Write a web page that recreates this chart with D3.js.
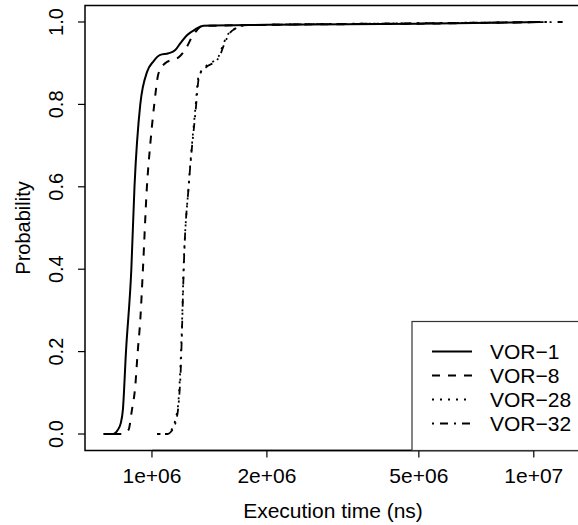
<!DOCTYPE html>
<html>
<head>
<meta charset="utf-8">
<script src="https://cdn.jsdelivr.net/npm/d3@7"></script>
<style>
  body { margin: 0; background: #fff; }
  svg text { font-family: "Liberation Sans", Arial, Helvetica, sans-serif; fill: #000; }
</style>
</head>
<body>
<svg width="578" height="525"></svg>
<script>
// execution time (ns) vs cumulative probability
const seriesNames = ["VOR\u22121", "VOR\u22128", "VOR\u221228", "VOR\u221232"];

const vor1 = [
  [7.46e5, 0], [7.92e5, 0], [8.11e5, 0.008], [8.29e5, 0.027], [8.39e5, 0.058],
  [8.55e5, 0.2], [8.83e5, 0.4], [9.00e5, 0.6], [9.32e5, 0.8], [9.72e5, 0.88],
  [1.008e6, 0.904], [1.051e6, 0.92], [1.105e6, 0.924], [1.151e6, 0.932],
  [1.186e6, 0.948], [1.235e6, 0.968], [1.298e6, 0.982], [1.365e6, 0.991],
  [2e6, 0.993], [5e6, 0.996], [1.04e7, 1.0]
];
const vor8 = [
  [7.92e5, 0], [8.36e5, 0], [8.68e5, 0.01], [8.86e5, 0.058], [9.04e5, 0.115],
  [9.17e5, 0.196], [9.32e5, 0.277], [9.47e5, 0.4], [9.70e5, 0.6], [9.90e5, 0.704],
  [1.014e6, 0.8], [1.040e6, 0.875], [1.083e6, 0.9], [1.128e6, 0.908],
  [1.174e6, 0.914], [1.235e6, 0.94], [1.273e6, 0.964], [1.311e6, 0.98],
  [1.352e6, 0.99], [2e6, 0.993], [5e6, 0.996], [1.08e7, 1.0]
];
const vor28 = [
  [1.031e6, 0], [1.095e6, 0], [1.117e6, 0.006], [1.151e6, 0.034], [1.174e6, 0.083],
  [1.186e6, 0.155], [1.198e6, 0.26], [1.210e6, 0.4], [1.247e6, 0.6], [1.298e6, 0.786],
  [1.324e6, 0.867], [1.379e6, 0.891], [1.465e6, 0.908], [1.494e6, 0.916],
  [1.540e6, 0.948], [1.587e6, 0.972], [1.652e6, 0.984], [1.737e6, 0.992],
  [5e6, 0.997], [1.1e7, 1.0]
];
const vor32 = [
  [1.04e6, 0], [1.10e6, 0], [1.12e6, 0.005], [1.155e6, 0.03], [1.176e6, 0.08],
  [1.19e6, 0.16], [1.20e6, 0.27], [1.212e6, 0.41], [1.25e6, 0.61], [1.30e6, 0.78],
  [1.33e6, 0.87], [1.385e6, 0.89], [1.47e6, 0.905], [1.50e6, 0.915],
  [1.545e6, 0.945], [1.59e6, 0.97], [1.66e6, 0.985], [1.75e6, 0.992],
  [5e6, 0.997], [1.19e7, 1.0]
];

const xTicks = [1e6, 2e6, 5e6, 1e7];
const xTickLabels = ["1e+06", "2e+06", "5e+06", "1e+07"];
const yTicks = [0, 0.2, 0.4, 0.6, 0.8, 1.0];

const allSeries = [vor1, vor8, vor28, vor32];
const dashes = [null, "8,8", "2,6", "2,6,8,6"];
const widths = [2, 2, 1.8, 1.8];

const svg = d3.select("svg");
const plot = {left: 85, right: 581, top: 5.5, bottom: 450.5};

// R style 4% padding, in log space for x
const xs = allSeries.flat().map(d => Math.log10(d[0]));
const lo = d3.min(xs), hi = d3.max(xs), pad = (hi - lo) * 0.04;
const x = d3.scaleLog()
  .domain([Math.pow(10, lo - pad), Math.pow(10, hi + pad)])
  .range([plot.left, plot.right]);
const y = d3.scaleLinear()
  .domain([-0.04, 1.04])
  .range([plot.bottom, plot.top]);

svg.append("clipPath").attr("id", "clip")
  .append("rect")
  .attr("x", plot.left).attr("y", plot.top)
  .attr("width", plot.right - plot.left).attr("height", plot.bottom - plot.top);

const line = d3.line()
  .x(d => x(d[0]))
  .y(d => y(d[1]))
  .curve(d3.curveMonotoneX);

const linesG = svg.append("g").attr("clip-path", "url(#clip)");
allSeries.forEach((s, i) => {
  linesG.append("path")
    .attr("d", line(s))
    .attr("fill", "none")
    .attr("stroke", "#000")
    .attr("stroke-width", widths[i])
    .attr("stroke-dasharray", dashes[i]);
});

// box
svg.append("rect")
  .attr("x", plot.left).attr("y", plot.top)
  .attr("width", plot.right - plot.left).attr("height", plot.bottom - plot.top)
  .attr("fill", "none").attr("stroke", "#000").attr("stroke-width", 1.5);

// x axis
const xAxis = svg.append("g");
xAxis.append("line")
  .attr("x1", x(xTicks[0])).attr("x2", x(xTicks[xTicks.length - 1]))
  .attr("y1", plot.bottom).attr("y2", plot.bottom)
  .attr("stroke", "#000").attr("stroke-width", 1.5);
xTicks.forEach((t, i) => {
  xAxis.append("line")
    .attr("x1", x(t)).attr("x2", x(t))
    .attr("y1", plot.bottom).attr("y2", plot.bottom + 7)
    .attr("stroke", "#000").attr("stroke-width", 1.2);
  xAxis.append("text")
    .attr("x", x(t)).attr("y", plot.bottom + 32)
    .attr("text-anchor", "middle")
    .attr("font-size", 21)
    .text(xTickLabels[i]);
});
svg.append("text")
  .attr("x", (plot.left + plot.right) / 2).attr("y", 518)
  .attr("text-anchor", "middle")
  .attr("font-size", 21)
  .text("Execution time (ns)");

// y axis
const yAxis = svg.append("g");
yTicks.forEach(t => {
  yAxis.append("line")
    .attr("x1", plot.left - 7).attr("x2", plot.left)
    .attr("y1", y(t)).attr("y2", y(t))
    .attr("stroke", "#000").attr("stroke-width", 1.2);
  yAxis.append("text")
    .attr("transform", `translate(${plot.left - 22},${y(t)}) rotate(-90)`)
    .attr("text-anchor", "middle")
    .attr("font-size", 20)
    .text(t.toFixed(1));
});
svg.append("text")
  .attr("transform", `translate(30,${(plot.top + plot.bottom) / 2}) rotate(-90)`)
  .attr("text-anchor", "middle")
  .attr("font-size", 20)
  .text("Probability");

// legend, bottom right
const lg = {w: 169, h: 129, row: 24, first: 30};
const legend = svg.append("g")
  .attr("transform", `translate(${plot.right - lg.w},${plot.bottom - lg.h})`);
legend.append("rect")
  .attr("width", lg.w).attr("height", lg.h)
  .attr("fill", "#fff").attr("stroke", "#333").attr("stroke-width", 1.2);
seriesNames.forEach((name, i) => {
  const cy = lg.first + i * lg.row;
  legend.append("line")
    .attr("x1", 20).attr("x2", 60)
    .attr("y1", cy).attr("y2", cy)
    .attr("stroke", "#000")
    .attr("stroke-width", widths[i])
    .attr("stroke-dasharray", dashes[i]);
  legend.append("text")
    .attr("x", 78).attr("y", cy)
    .attr("dy", "0.36em")
    .attr("font-size", 21)
    .text(name);
});
</script>
</body>
</html>
